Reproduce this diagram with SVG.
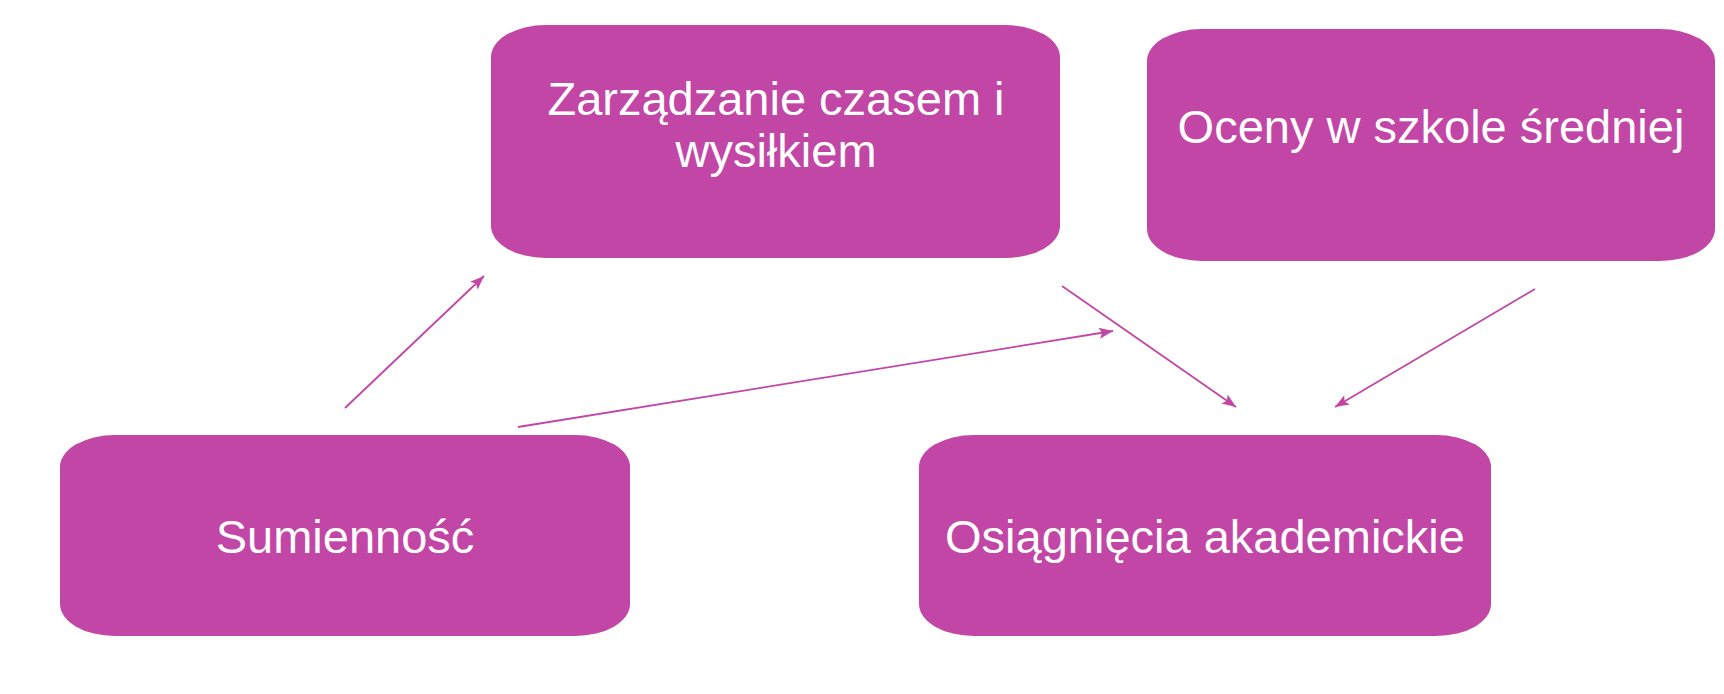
<svg xmlns="http://www.w3.org/2000/svg" width="1724" height="694" viewBox="0 0 1724 694">
  <style>
    .box { fill: #C246A6; }
    .lbl { fill: #FFFFFF; font-family: "Liberation Sans", Arial, sans-serif; font-size: 47px; text-anchor: middle; }
    .conn { stroke: #C246A6; stroke-width: 1.8; fill: none; marker-end: url(#arrow); }
  </style>
  <defs>
    <marker id="arrow" viewBox="0 0 14 11" refX="14" refY="5.5" markerWidth="14" markerHeight="11" markerUnits="userSpaceOnUse" orient="auto">
      <path d="M0,0 L14,5.5 L0,11 L3,5.5 z" fill="#C246A6"/>
    </marker>
  </defs>
  <rect width="1724" height="694" fill="#FFFFFF"/>
  <g id="node-zarzadzanie">
    <rect class="box" x="491" y="25" width="569" height="233" rx="55" ry="32"/>
    <text class="lbl" x="776" y="115">Zarządzanie czasem i</text>
    <text class="lbl" x="776" y="167">wysiłkiem</text>
  </g>
  <g id="node-oceny">
    <rect class="box" x="1147" y="29" width="568" height="232" rx="55" ry="32"/>
    <text class="lbl" x="1431" y="143">Oceny w szkole średniej</text>
  </g>
  <g id="node-sumiennosc">
    <rect class="box" x="60" y="435" width="570" height="201" rx="55" ry="32"/>
    <text class="lbl" x="345" y="553">Sumienność</text>
  </g>
  <g id="node-osiagniecia">
    <rect class="box" x="919" y="435" width="572" height="201" rx="55" ry="32"/>
    <text class="lbl" x="1205" y="553">Osiągnięcia akademickie</text>
  </g>
  <g id="connectors">
    <line class="conn" x1="345" y1="408" x2="484" y2="276"/>
    <line class="conn" x1="518" y1="427" x2="1113" y2="331"/>
    <line class="conn" x1="1062" y1="286" x2="1236" y2="407"/>
    <line class="conn" x1="1535" y1="289" x2="1335" y2="407"/>
  </g>
</svg>
